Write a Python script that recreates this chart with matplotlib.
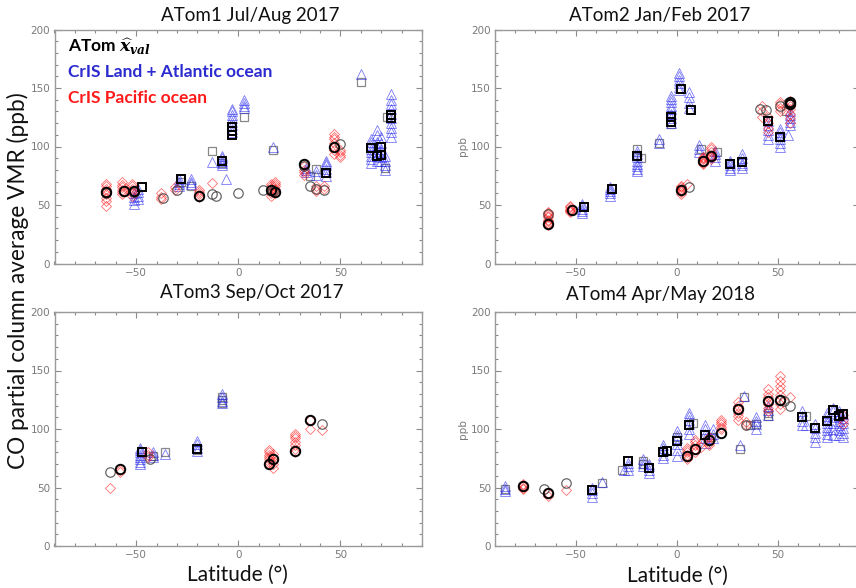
import numpy as np
import matplotlib
matplotlib.use("Agg")
import matplotlib.pyplot as plt
from matplotlib.ticker import MultipleLocator

# ---------------- data (latitude in degrees, CO VMR in ppb) ----------------
TITLES = ["ATom1 Jul/Aug 2017", "ATom2 Jan/Feb 2017", "ATom3 Sep/Oct 2017", "ATom4 Apr/May 2018"]

# ATom1
A1_TRI_LAT = [-51, -49, -29, -23, -13, -8, -6, -3, 3, 17, 33, 38, 43, 60, 65, 68, 70, 72, 75]
A1_TRI_VMR = [[51, 54, 57, 60], [55, 58, 61, 64], [66, 68, 70, 72], [68, 70, 72], [87],
              [84, 86, 88, 90, 92], [72], [112, 115, 118, 121, 124, 127, 130, 132],
              [133, 135, 137, 140], [100], [78, 80, 82], [76, 79], [75, 78, 81, 84, 86, 88],
              [162], [86, 89, 92, 95, 98, 101, 104, 106], [88, 92, 96, 100, 104, 110, 114],
              [88, 91, 95, 98, 103, 108], [80, 84, 88, 92],
              [108, 112, 116, 120, 124, 128, 132, 136, 140, 145]]
A1_DIA_LAT = [-65, -57, -52, -38, -31, -19, -13, 16, 18, 32, 38, 42, 47, 50]
A1_DIA_VMR = [[49, 53, 56, 59, 62, 64, 66, 68], [59, 61, 63, 65, 67, 70], [58, 60, 62, 64, 66, 68],
              [55, 57, 60], [63, 65], [57, 59, 61, 63], [69], [58, 60, 62, 64, 66, 68],
              [60, 62, 64, 66, 68, 70], [76, 78, 80, 83], [62, 64, 66], [64, 66],
              [94, 97, 100, 103, 106, 108, 111], [91, 93, 95, 97]]
A1_SQB_LAT = [-47, -28, -8, -3, -3, -3, 43, 65, 68, 70, 70, 75, 75]
A1_SQB_VMR = [65, 72, 88, 110, 113, 117, 77, 99, 92, 100, 93, 127, 124]
A1_SQL_LAT = [-28, -23, -13, -8, 3, 17, 35, 38, 60, 72, 73]
A1_SQL_VMR = [70, 66, 96, 86, 125, 97, 75, 81, 155, 82, 125]
A1_CIB_LAT = [-65, -56, -51, -19, 16, 18, 32, 47]
A1_CIB_VMR = [61, 62, 62, 58, 63, 61, 85, 100]
A1_CIL_LAT = [-65, -51, -37, -30, -13, -11, 0, 12, 17, 32, 35, 38, 42, 50]
A1_CIL_VMR = [60, 61, 56, 63, 59, 58, 60, 63, 62, 83, 66, 64, 63, 102]

# ATom2
A2_TRI_LAT = [-47, -33, -20, -9, -3, 1, 6, 11, 19, 26, 32, 45, 51, 55, 56]
A2_TRI_VMR = [[43, 45, 47, 49, 51], [58, 60, 62, 64, 65], [79, 81, 83, 85, 88, 91, 94, 96],
              [103, 106], [120, 124, 128, 132, 135, 138, 141, 143], [148, 151, 154, 157, 160, 163],
              [133, 137, 142, 147], [95, 98, 101], [88, 91, 94, 96], [80, 82, 84, 86, 88],
              [82, 84, 86, 90, 94], [106, 110, 114, 118, 122], [100, 103, 106, 109, 112, 115],
              [110], [118, 121, 124, 127, 130]]
A2_DIA_LAT = [-64, -53, 2, 5, 13, 17, 42, 45, 51, 56]
A2_DIA_VMR = [[33, 34, 35, 36, 37, 40, 41, 42, 43, 44], [44, 45, 46, 47, 48, 49],
              [59, 61, 62, 63, 64, 65, 66], [68],
              [85, 86, 87, 88, 89, 90, 91], [89, 91, 92, 93, 95, 98, 100], [125, 130, 135],
              [112, 116, 120, 125], [130, 133, 136, 138], [120, 124, 128, 132, 135, 137, 139]]
A2_SQB_LAT = [-46, -32, -20, -3, -3, 2, 7, 26, 32, 45, 51]
A2_SQB_VMR = [48, 64, 92, 125, 121, 149, 131, 85, 87, 122, 108]
A2_SQL_LAT = [-20, -18, -9, -3, -3, 12, 20, 54]
A2_SQL_VMR = [98, 90, 103, 119, 127, 98, 95, 130]
A2_CIB_LAT = [-64, -52, 2, 13, 17, 56, 56]
A2_CIB_VMR = [34, 46, 63, 88, 92, 138, 136]
A2_CIL_LAT = [-64, 6, 41, 44, 51, 55]
A2_CIL_VMR = [42, 65, 132, 131, 135, 137]

# ATom3
A3_TRI_LAT = [-48, -42, -36, -20, -8]
A3_TRI_VMR = [[70, 72, 74, 76, 78, 80, 82, 84], [76, 78, 80], [79], [81, 84, 87, 90],
              [122, 124, 127, 130]]
A3_DIA_LAT = [-63, -58, -44, 15, 17, 28, 35, 41]
A3_DIA_VMR = [[50], [63, 65], [76, 78, 80], [70, 72, 74, 76, 78, 80, 82], [67, 70, 73, 76, 79],
              [80, 83, 86, 89, 92, 94, 96], [100, 108], [99]]
A3_SQB_LAT = [-47, -20]
A3_SQB_VMR = [80, 83]
A3_SQL_LAT = [-42, -36, -8, -8, -8, -20]
A3_SQL_VMR = [77, 80, 122, 125, 127, 82]
A3_CIB_LAT = [-58, 15, 17, 28, 35]
A3_CIB_VMR = [66, 70, 74, 81, 108]
A3_CIL_LAT = [-63, -43, 41]
A3_CIL_VMR = [63, 74, 104]

# ATom4
A4_TRI_LAT = [-85, -42, -37, -26, -24, -17, -14, -7, 0, 6, 14, 18, 31, 33, 39, 45, 62, 64, 68,
              74, 77, 80, 82]
A4_TRI_VMR = [[47, 49, 51], [42, 45, 48, 50], [55], [65], [65, 68, 71], [68, 71, 74],
              [62, 65, 68, 70], [75, 78, 81, 84, 86], [77, 82, 87, 92, 95, 98],
              [96, 100, 104, 108, 111, 114], [88, 92, 96, 100, 103], [92, 96, 100], [86], [128],
              [100, 104, 107, 110], [112, 116, 120], [103, 107, 111, 115], [103],
              [89, 93, 97, 101, 104], [93, 96, 99, 102, 105, 108, 111, 114],
              [95, 100, 105, 110, 115, 118], [95, 99, 103, 107, 111, 115],
              [93, 97, 101, 105, 109, 113]]
A4_DIA_LAT = [-76, -64, -55, 5, 9, 12, 16, 22, 30, 34, 45, 51, 56, 82]
A4_DIA_VMR = [[49, 50, 51, 52, 53], [43, 45], [48], [74, 76, 78, 80, 82, 84], [80, 83, 86, 89, 91],
              [85, 88], [86, 88, 90, 93], [100, 102, 104, 106, 108], [108, 111, 114, 117, 120, 123],
              [103, 106], [115, 118, 121, 124, 127, 130, 134], [117, 121, 125, 129, 133, 137, 141, 145],
              [127], [104, 108, 112]]
A4_SQB_LAT = [-42, -24, -14, -7, -5, 0, 6, 14, 62, 68, 74, 77, 80, 82]
A4_SQB_VMR = [48, 73, 67, 80, 81, 90, 103, 95, 110, 101, 107, 116, 111, 113]
A4_SQL_LAT = [-85, -37, -27, -17, -17, 0, 8, 17, 31, 33, 36, 39, 45, 45, 64]
A4_SQL_VMR = [49, 54, 65, 73, 70, 93, 105, 93, 83, 127, 103, 104, 111, 114, 111]
A4_CIB_LAT = [-76, -64, 5, 9, 16, 22, 30, 45, 51]
A4_CIB_VMR = [51, 45, 77, 83, 91, 97, 117, 124, 125]
A4_CIL_LAT = [-66, -55, 34, 53, 56]
A4_CIL_VMR = [49, 54, 103, 124, 120]

PANELS = [
    (A1_TRI_LAT, A1_TRI_VMR, A1_DIA_LAT, A1_DIA_VMR, A1_SQB_LAT, A1_SQB_VMR, A1_SQL_LAT, A1_SQL_VMR,
     A1_CIB_LAT, A1_CIB_VMR, A1_CIL_LAT, A1_CIL_VMR),
    (A2_TRI_LAT, A2_TRI_VMR, A2_DIA_LAT, A2_DIA_VMR, A2_SQB_LAT, A2_SQB_VMR, A2_SQL_LAT, A2_SQL_VMR,
     A2_CIB_LAT, A2_CIB_VMR, A2_CIL_LAT, A2_CIL_VMR),
    (A3_TRI_LAT, A3_TRI_VMR, A3_DIA_LAT, A3_DIA_VMR, A3_SQB_LAT, A3_SQB_VMR, A3_SQL_LAT, A3_SQL_VMR,
     A3_CIB_LAT, A3_CIB_VMR, A3_CIL_LAT, A3_CIL_VMR),
    (A4_TRI_LAT, A4_TRI_VMR, A4_DIA_LAT, A4_DIA_VMR, A4_SQB_LAT, A4_SQB_VMR, A4_SQL_LAT, A4_SQL_VMR,
     A4_CIB_LAT, A4_CIB_VMR, A4_CIL_LAT, A4_CIL_VMR),
]

# ---------------- layout ----------------
W, H = 856, 588
fig = plt.figure(figsize=(W / 100, H / 100), dpi=100)
plt.rcParams['mathtext.fontset'] = 'dejavuserif'

def axpos(l, t, r, b):
    return [l / W, 1 - b / H, (r - l) / W, (b - t) / H]

boxes = [(54.5, 29.5, 422, 263.5), (495, 29.5, 859, 263.5),
         (54.5, 312, 422, 546), (495, 312, 859, 546)]
title_xy = [(250, 15), (660, 15), (252, 293), (661, 295)]

GRAY = '#8a8a8a'

def flat(lats, vals):
    x = np.repeat(np.asarray(lats, float), [len(v) for v in vals])
    y = np.concatenate([np.asarray(v, float) for v in vals])
    return x, y

for i, (box, data) in enumerate(zip(boxes, PANELS)):
    (tl, tv, dl, dv, sbl, sbv, sll, slv, cbl, cbv, cll, clv) = data
    ax = fig.add_axes(axpos(*box))
    ax.set_xlim(-90, 90)
    ax.set_ylim(0, 200)
    ax.xaxis.set_major_locator(MultipleLocator(50))
    ax.xaxis.set_minor_locator(MultipleLocator(10))
    ax.yaxis.set_major_locator(MultipleLocator(50))
    ax.yaxis.set_minor_locator(MultipleLocator(10))
    ax.tick_params(which='both', direction='in', top=True, right=True, colors=GRAY,
                   labelcolor='#7a7a7a', labelsize=7.5, width=0.8)
    ax.tick_params(which='major', length=4.5, pad=3)
    ax.tick_params(which='minor', length=2.5)
    for s in ax.spines.values():
        s.set_color('#9a9a9a')
        s.set_linewidth(1.0)

    x, y = flat(tl, tv)
    ax.plot(sll, slv, ls='none', marker='s', ms=6.2, mfc='none', mec='#606060', mew=0.9, alpha=0.75)
    ax.plot(x, y, ls='none', marker='^', ms=7, mfc='none', mec='#2020ee', mew=0.6, alpha=0.6)
    x, y = flat(dl, dv)
    ax.plot(x, y, ls='none', marker='D', ms=4.6, mfc='none', mec='#ff1010', mew=0.6, alpha=0.6)
    ax.plot(cll, clv, ls='none', marker='o', ms=6.8, mfc='none', mec='#404040', mew=0.9, alpha=0.8)
    ax.plot(sbl, sbv, ls='none', marker='s', ms=6.2, mfc='none', mec='black', mew=1.4)
    ax.plot(cbl, cbv, ls='none', marker='o', ms=6.8, mfc='none', mec='black', mew=1.4)

    if i in (1, 3):
        ax.set_ylabel('ppb', color='#7a7a7a', fontsize=7.5, labelpad=2)

    tx, ty = title_xy[i]
    fig.text(tx / W, 1 - ty / H, TITLES[i], ha='center', va='center', fontsize=13.5,
             family='Lato', color='#111111')

    if i == 0:
        ax.text(68 / W, 1 - 47 / H, r'ATom $\widehat{\mathbfit{x}}_{\mathbfit{val}}$',
                transform=fig.transFigure, ha='left', va='center', fontsize=12.5,
                family='Lato', fontweight='bold', color='black')
        ax.text(68 / W, 1 - 72 / H, 'CrIS Land + Atlantic ocean', transform=fig.transFigure,
                ha='left', va='center', fontsize=12.5, family='Lato', fontweight='bold',
                color='#2b2bcf')
        ax.text(68 / W, 1 - 98 / H, 'CrIS Pacific ocean', transform=fig.transFigure,
                ha='left', va='center', fontsize=12.5, family='Lato', fontweight='bold',
                color='#ff1a1a')

fig.text(18 / W, 1 - 281 / H, 'CO partial column average VMR (ppb)', rotation=90,
         ha='center', va='center', fontsize=16.3, family='Lato', color='#111111')
fig.text(237 / W, 1 - 575 / H, 'Latitude (°)', ha='center', va='center', fontsize=15,
         family='Lato', color='#111111')
fig.text(677 / W, 1 - 576 / H, 'Latitude (°)', ha='center', va='center', fontsize=15,
         family='Lato', color='#111111')

fig.savefig('out.png', dpi=100)
